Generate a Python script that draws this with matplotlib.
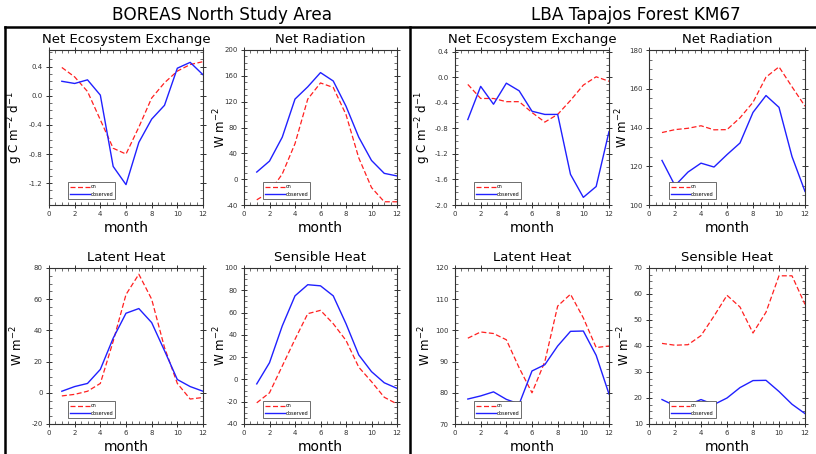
import matplotlib
matplotlib.use("Agg")
import matplotlib.pyplot as plt
from matplotlib.ticker import MultipleLocator, AutoMinorLocator, FormatStrFormatter
from matplotlib.lines import Line2D

months = [1, 2, 3, 4, 5, 6, 7, 8, 9, 10, 11, 12]

# BOREAS North Study Area
bor_nee_cn = [0.39, 0.26, 0.06, -0.33, -0.72, -0.80, -0.43, -0.03, 0.18, 0.34, 0.43, 0.47]
bor_nee_obs = [0.20, 0.17, 0.22, 0.01, -0.97, -1.22, -0.64, -0.32, -0.13, 0.38, 0.46, 0.29]
bor_rn_cn = [-32, -20, 8, 55, 124, 149, 142, 100, 33, -13, -35, -35]
bor_rn_obs = [11, 28, 65, 124, 143, 165, 152, 113, 65, 29, 9, 5]
bor_le_cn = [-2, -1, 1, 6, 33, 63, 76, 60, 29, 6, -4, -3]
bor_le_obs = [1, 4, 6, 15, 35, 51, 54, 45, 27, 8.5, 4, 1]
bor_sh_cn = [-21, -12, 12, 36, 59, 62, 50, 35, 11, -2, -16, -22]
bor_sh_obs = [-4, 15, 48, 75, 85, 84, 75, 50, 22, 7, -3, -8]

# LBA Tapajos Forest KM67
lba_nee_cn = [-0.11, -0.33, -0.33, -0.38, -0.38, -0.55, -0.70, -0.58, -0.36, -0.12, 0.01, -0.06]
lba_nee_obs = [-0.66, -0.14, -0.42, -0.09, -0.21, -0.53, -0.58, -0.58, -1.52, -1.88, -1.71, -0.85]
lba_rn_cn = [137.4, 138.9, 139.6, 140.9, 138.8, 138.9, 145, 153, 166, 171.3, 161, 151]
lba_rn_obs = [123, 110, 117, 121.6, 119.6, 126, 132, 147.8, 156.5, 150.4, 125, 107]
lba_le_cn = [97.5, 99.5, 99, 97, 88, 80, 90, 107.8, 111.6, 104, 94.5, 95]
lba_le_obs = [78, 79, 80.3, 77.9, 76.4, 87, 89, 95, 99.7, 99.8, 92, 79.6]
lba_sh_cn = [41, 40.3, 40.5, 44, 51.5, 59.5, 55, 45, 53, 67, 67, 56]
lba_sh_obs = [19.4, 17, 17.3, 19.4, 17.5, 20, 24, 26.7, 26.8, 22.5, 17.6, 14]

W, H = 816, 454
fig = plt.figure(figsize=(W / 100, H / 100), dpi=100)

def px_axes(x0, y0, x1, y1):
  return fig.add_axes([x0 / W, 1 - y1 / H, (x1 - x0) / W, (y1 - y0) / H])

def panel(ax, cn, obs, title, ylabel, ylim, ystep, fmt, labx):
  ax.plot(months, cn, color='#ff2020', ls=(0, (4, 2)), lw=0.9, label='cn')
  ax.plot(months, obs, color='#2020ff', lw=1.0, label='observed')
  ax.set_xlim(0, 12)
  ax.set_ylim(*ylim)
  ax.xaxis.set_major_locator(MultipleLocator(2))
  ax.xaxis.set_minor_locator(AutoMinorLocator(4))
  ax.yaxis.set_major_locator(MultipleLocator(ystep))
  ax.yaxis.set_minor_locator(AutoMinorLocator(4))
  ax.yaxis.set_major_formatter(FormatStrFormatter(fmt))
  ax.tick_params(which='major', direction='inout', length=5, width=0.7,
                 top=True, right=True, labelsize=5, pad=2, colors='#333333')
  ax.tick_params(which='minor', direction='in', length=2, width=0.5,
                 top=True, right=True, colors='#333333')
  for s in ax.spines.values():
    s.set_linewidth(0.8)
    s.set_color('#333333')
  ax.set_title(title, fontsize=9.5, pad=5)
  ax.set_xlabel('month', fontsize=10, labelpad=3)
  ax.set_ylabel(ylabel, fontsize=8.6)
  ax.yaxis.set_label_coords(labx, 0.5)
  leg = ax.legend(loc='lower left', bbox_to_anchor=(0.11, 0.025), fontsize=3.5,
                  handlelength=4, handletextpad=0.2, borderpad=0.4,
                  labelspacing=0.5, fancybox=False, framealpha=1)
  leg.get_frame().set_edgecolor('#555555')
  leg.get_frame().set_linewidth(0.6)

nee_lab = r'g C m$^{-2}$ d$^{-1}$'
w_lab = r'W m$^{-2}$'

# left block
panel(px_axes(49, 50, 203, 205), bor_nee_cn, bor_nee_obs, 'Net Ecosystem Exchange',
      nee_lab, (-1.5, 0.63), 0.4, '%.1f', -0.155)
panel(px_axes(244, 50, 397, 205), bor_rn_cn, bor_rn_obs, 'Net Radiation',
      w_lab, (-40, 200), 40, '%d', -0.1)
panel(px_axes(49, 268, 203, 424), bor_le_cn, bor_le_obs, 'Latent Heat',
      w_lab, (-20, 80), 20, '%d', -0.155)
panel(px_axes(244, 268, 397, 424), bor_sh_cn, bor_sh_obs, 'Sensible Heat',
      w_lab, (-40, 100), 20, '%d', -0.1)

# right block
panel(px_axes(455, 50, 609, 205), lba_nee_cn, lba_nee_obs, 'Net Ecosystem Exchange',
      nee_lab, (-2.0, 0.43), 0.4, '%.1f', -0.143)
panel(px_axes(649, 50, 805, 205), lba_rn_cn, lba_rn_obs, 'Net Radiation',
      w_lab, (100, 180), 20, '%d', -0.12)
panel(px_axes(455, 268, 609, 424), lba_le_cn, lba_le_obs, 'Latent Heat',
      w_lab, (70, 120), 10, '%d', -0.143)
panel(px_axes(649, 268, 805, 424), lba_sh_cn, lba_sh_obs, 'Sensible Heat',
      w_lab, (10, 70), 10, '%d', -0.11)

fig.text(222 / W, 1 - 15 / H, 'BOREAS North Study Area', ha='center', va='center', fontsize=12.2)
fig.text(636 / W, 1 - 15 / H, 'LBA Tapajos Forest KM67', ha='center', va='center', fontsize=12.2)

# frames round the two blocks
for x in (5, 410):
  fig.add_artist(Line2D([x / W, x / W], [0, 1 - 27 / H], color='black', lw=1.8))
fig.add_artist(Line2D([5 / W, 1], [1 - 27 / H, 1 - 27 / H], color='black', lw=1.8))

fig.savefig('out.png', dpi=100)
